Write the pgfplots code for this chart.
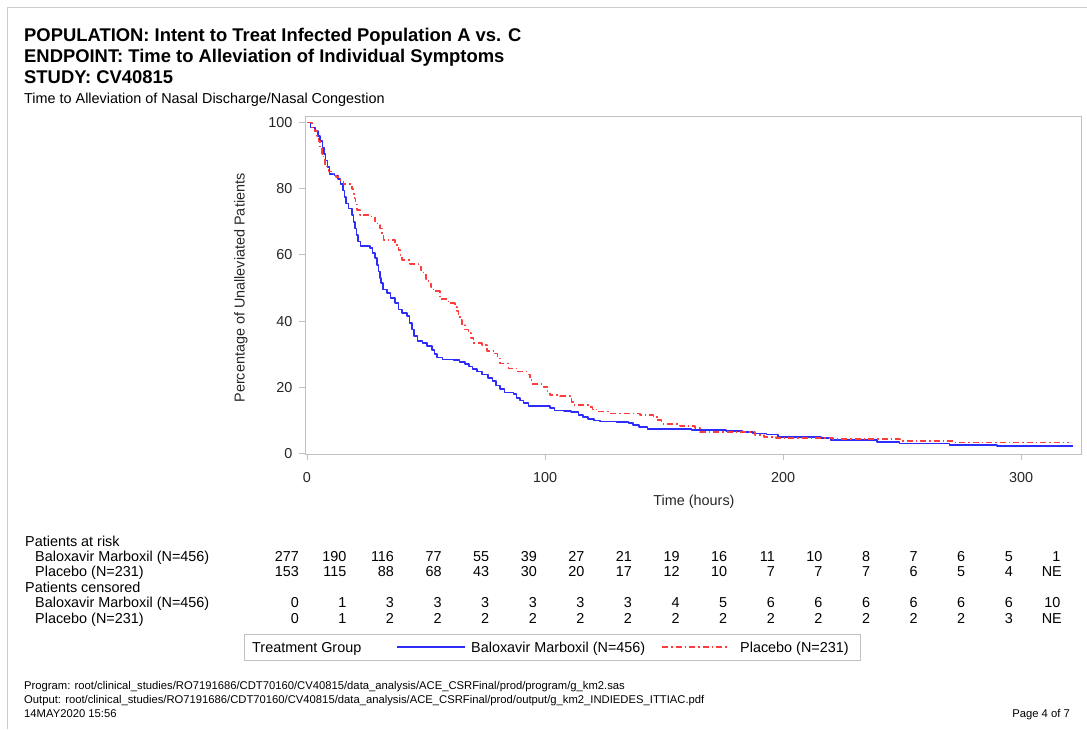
\documentclass[border=0pt]{standalone}
\usepackage{fontspec}
\setmainfont{Liberation Sans}
\usepackage{pgfplots}
\pgfplotsset{compat=1.18}
\definecolor{kmblue}{RGB}{45,45,250}
\definecolor{kmred}{RGB}{255,60,60}
\definecolor{framegray}{RGB}{192,192,192}
\newcommand{\fs}{\fontsize{14.4}{16}\selectfont}

\pgfplotstableread{
t S
0 100
1.5 98.5
3.4 97.5
4.5 96
5.5 94.5
6.5 92.5
7.2 90.5
7.8 88.5
8.6 86.5
9.4 84.5
11.5 84
13 83
14 81.5
15 79.5
15.8 77.5
16.5 75.5
17.5 74
18.8 72
19.5 70
20.2 68
20.8 66
21.5 64
22.5 62.7
26.5 62
27.5 60.5
28.6 59
29.3 57
30 55
30.6 53
31.2 51.5
32 49.5
33.5 48.5
35 47
37 45.5
38.5 43.5
40 42.5
41.9 41.5
43 39.5
44 37.5
45 35.5
46.5 34
48.5 33.3
50.5 32.5
52.4 31.2
53.5 30
54.5 29
57 28.4
61.5 28.2
64 27.7
66.5 27
68 26.2
69.5 25.5
71.3 24.7
73.5 23.8
76 22.8
78 21.8
79.5 20.5
81 19.5
83 18.4
86.7 17.9
88 16.8
89.5 16
91 15.2
93 14.3
102 13.8
104 13
108 12.8
111 12.5
114 11.6
116 11
118 10.4
120.5 9.9
123 9.6
130 9.4
135 9.2
137 8.6
139.5 7.9
143 7.4
161.5 7.0
176 6.8
183 6.5
187.5 6.0
193 5.7
198 5.0
216 4.6
220 4.0
239.5 3.5
249 3.0
270 2.6
290 2.2
321.7 2.2
}\baloxavir

\pgfplotstableread{
t S
0 100
2 98.5
3.2 97.5
4.1 96
4.8 94.5
5.5 92.5
6.2 90.5
6.9 88.7
7.6 87.2
8.3 86.2
9 85.2
11.1 84.5
12.2 83.5
13.2 82.7
15.3 81.5
18.8 79.9
19.5 78.5
19.9 77
20.4 75.3
20.9 73.6
22.3 72.1
26.5 71.6
28.6 70.1
29.7 69
30.7 68
31.5 66.3
32.1 64.5
37 63
38.4 61.5
39.2 60
39.8 58.5
43.3 57.3
46.8 56.5
48 55.3
48.9 54.4
50 52.8
51 51.4
52.1 50.3
53.1 49
55.9 46.6
59.4 45.4
62.2 44.3
63 43
63.6 41.8
64.3 40.3
65 38.8
66.5 37.5
67.8 36.3
68.8 34.8
69.9 33.3
73.4 32.8
75.5 31.0
79 30.2
80 28.7
81.1 27.2
84.6 25.7
88.1 24.7
93 23.9
93.7 22.4
94.4 21
99.3 20
101 18.8
102.1 17.6
106.3 17.3
110.5 16.6
111.2 15.6
111.9 14.6
118.2 14.1
120 13.3
121.7 12.6
127.3 12.1
140 11.6
145.5 11.1
147 10
149 8.9
156.7 8.3
163 7.6
165.1 6.5
188.2 5.5
192 5.0
197 4.7
221 4.4
249.2 3.8
271.6 3.3
320 3.3
}\placebo

\begin{document}
\begin{tikzpicture}
\path[use as bounding box] (0,0) rectangle (1087pt,-729pt);
\draw[framegray!80, line width=0.8pt] (7pt,-729pt) -- (7pt,-7pt) -- (1087pt,-7pt);

% titles
\node[anchor=base west, inner sep=0pt, font=\fontsize{18.4}{20}\selectfont\bfseries] at (24pt,-41pt) {POPULATION: Intent to Treat Infected Population A vs. C};
\node[anchor=base west, inner sep=0pt, font=\fontsize{18.4}{20}\selectfont\bfseries] at (24pt,-62pt) {ENDPOINT: Time to Alleviation of Individual Symptoms};
\node[anchor=base west, inner sep=0pt, font=\fontsize{18.4}{20}\selectfont\bfseries] at (24pt,-83pt) {STUDY: CV40815};
\node[anchor=base west, inner sep=0pt, font=\fs] at (24pt,-103pt) {Time to Alleviation of Nasal Discharge/Nasal Congestion};

\begin{axis}[
  at={(305pt,-116pt)}, anchor=north west,
  scale only axis, width=776pt, height=338pt,
  xmin=-0.84, xmax=325.2, ymin=-0.2, ymax=102,
  xtick={0,100,200,300}, ytick={0,20,40,60,80,100},
  tick align=outside, xtick pos=bottom, ytick pos=left,
  major tick length=6pt,
  axis line style={framegray, line width=1pt},
  tick style={framegray, line width=1pt},
  ticklabel style={font=\fs, text=black!85},
  xticklabel style={yshift=-9pt},
  yticklabel style={xshift=-3pt},
  /pgf/number format/assume math mode=true,
  clip=true,
]
\addplot[const plot, color=kmblue, line width=1.6pt, line join=round] table[x=t,y=S] {\baloxavir};
\addplot[const plot, color=kmred, line width=1.6pt, line join=round, dash pattern=on 6pt off 3pt on 1.5pt off 3pt] table[x=t,y=S] {\placebo};
\end{axis}

% axis labels
\node[font=\fs, text=black!85] at (694pt,-502pt) {Time (hours)};
\node[font=\fs, text=black!85, rotate=90] at (241pt,-288pt) {Percentage of Unalleviated Patients};

% risk table
\node[anchor=base west, inner sep=0pt, font=\fs] at (25pt,-546pt) {Patients at risk};
\node[anchor=base west, inner sep=0pt, font=\fs] at (35pt,-561.4pt) {Baloxavir Marboxil (N=456)};
\node[anchor=base west, inner sep=0pt, font=\fs] at (35pt,-576.8pt) {Placebo (N=231)};
\node[anchor=base west, inner sep=0pt, font=\fs] at (25pt,-592.2pt) {Patients censored};
\node[anchor=base west, inner sep=0pt, font=\fs] at (35pt,-607.6pt) {Baloxavir Marboxil (N=456)};
\node[anchor=base west, inner sep=0pt, font=\fs] at (35pt,-623pt) {Placebo (N=231)};
\foreach \v [count=\i from 0] in {277,190,116,77,55,39,27,21,19,16,11,10,8,7,6,5,1}
  \node[anchor=base east, inner sep=0pt, font=\fs] at ({299pt+47.6pt*\i},-561.4pt) {\v};
\foreach \v [count=\i from 0] in {153,115,88,68,43,30,20,17,12,10,7,7,7,6,5,4}
  \node[anchor=base east, inner sep=0pt, font=\fs] at ({299pt+47.6pt*\i},-576.8pt) {\v};
\node[anchor=base east, inner sep=0pt, font=\fs] at (1062pt,-576.8pt) {NE};
\foreach \v [count=\i from 0] in {0,1,3,3,3,3,3,3,4,5,6,6,6,6,6,6,10}
  \node[anchor=base east, inner sep=0pt, font=\fs] at ({299pt+47.6pt*\i},-607.6pt) {\v};
\foreach \v [count=\i from 0] in {0,1,2,2,2,2,2,2,2,2,2,2,2,2,2,3}
  \node[anchor=base east, inner sep=0pt, font=\fs] at ({299pt+47.6pt*\i},-623pt) {\v};
\node[anchor=base east, inner sep=0pt, font=\fs] at (1062pt,-623pt) {NE};

% legend
\draw[framegray, line width=0.8pt] (244pt,-634pt) rectangle (860pt,-660pt);
\node[anchor=base west, inner sep=0pt, font=\fs] at (252pt,-652pt) {Treatment Group};
\draw[kmblue, line width=1.6pt] (397pt,-647pt) -- (465pt,-647pt);
\node[anchor=base west, inner sep=0pt, font=\fs] at (471pt,-652pt) {Baloxavir Marboxil (N=456)};
\draw[kmred, line width=1.6pt, dash pattern=on 6pt off 3pt on 1.5pt off 3pt] (662pt,-647pt) -- (728pt,-647pt);
\node[anchor=base west, inner sep=0pt, font=\fs] at (740pt,-652pt) {Placebo (N=231)};

% footer
\node[anchor=base west, inner sep=0pt, font=\fontsize{11.25}{12}\selectfont] at (24pt,-689pt) {Program: root/clinical\_studies/RO7191686/CDT70160/CV40815/data\_analysis/ACE\_CSRFinal/prod/program/g\_km2.sas};
\node[anchor=base west, inner sep=0pt, font=\fontsize{11.25}{12}\selectfont] at (24pt,-703pt) {Output: root/clinical\_studies/RO7191686/CDT70160/CV40815/data\_analysis/ACE\_CSRFinal/prod/output/g\_km2\_INDIEDES\_ITTIAC.pdf};
\node[anchor=base west, inner sep=0pt, font=\fontsize{11.25}{12}\selectfont] at (24pt,-717pt) {14MAY2020 15:56};
\node[anchor=base east, inner sep=0pt, font=\fontsize{11.25}{12}\selectfont] at (1070pt,-717pt) {Page 4 of 7};
\end{tikzpicture}
\end{document}
